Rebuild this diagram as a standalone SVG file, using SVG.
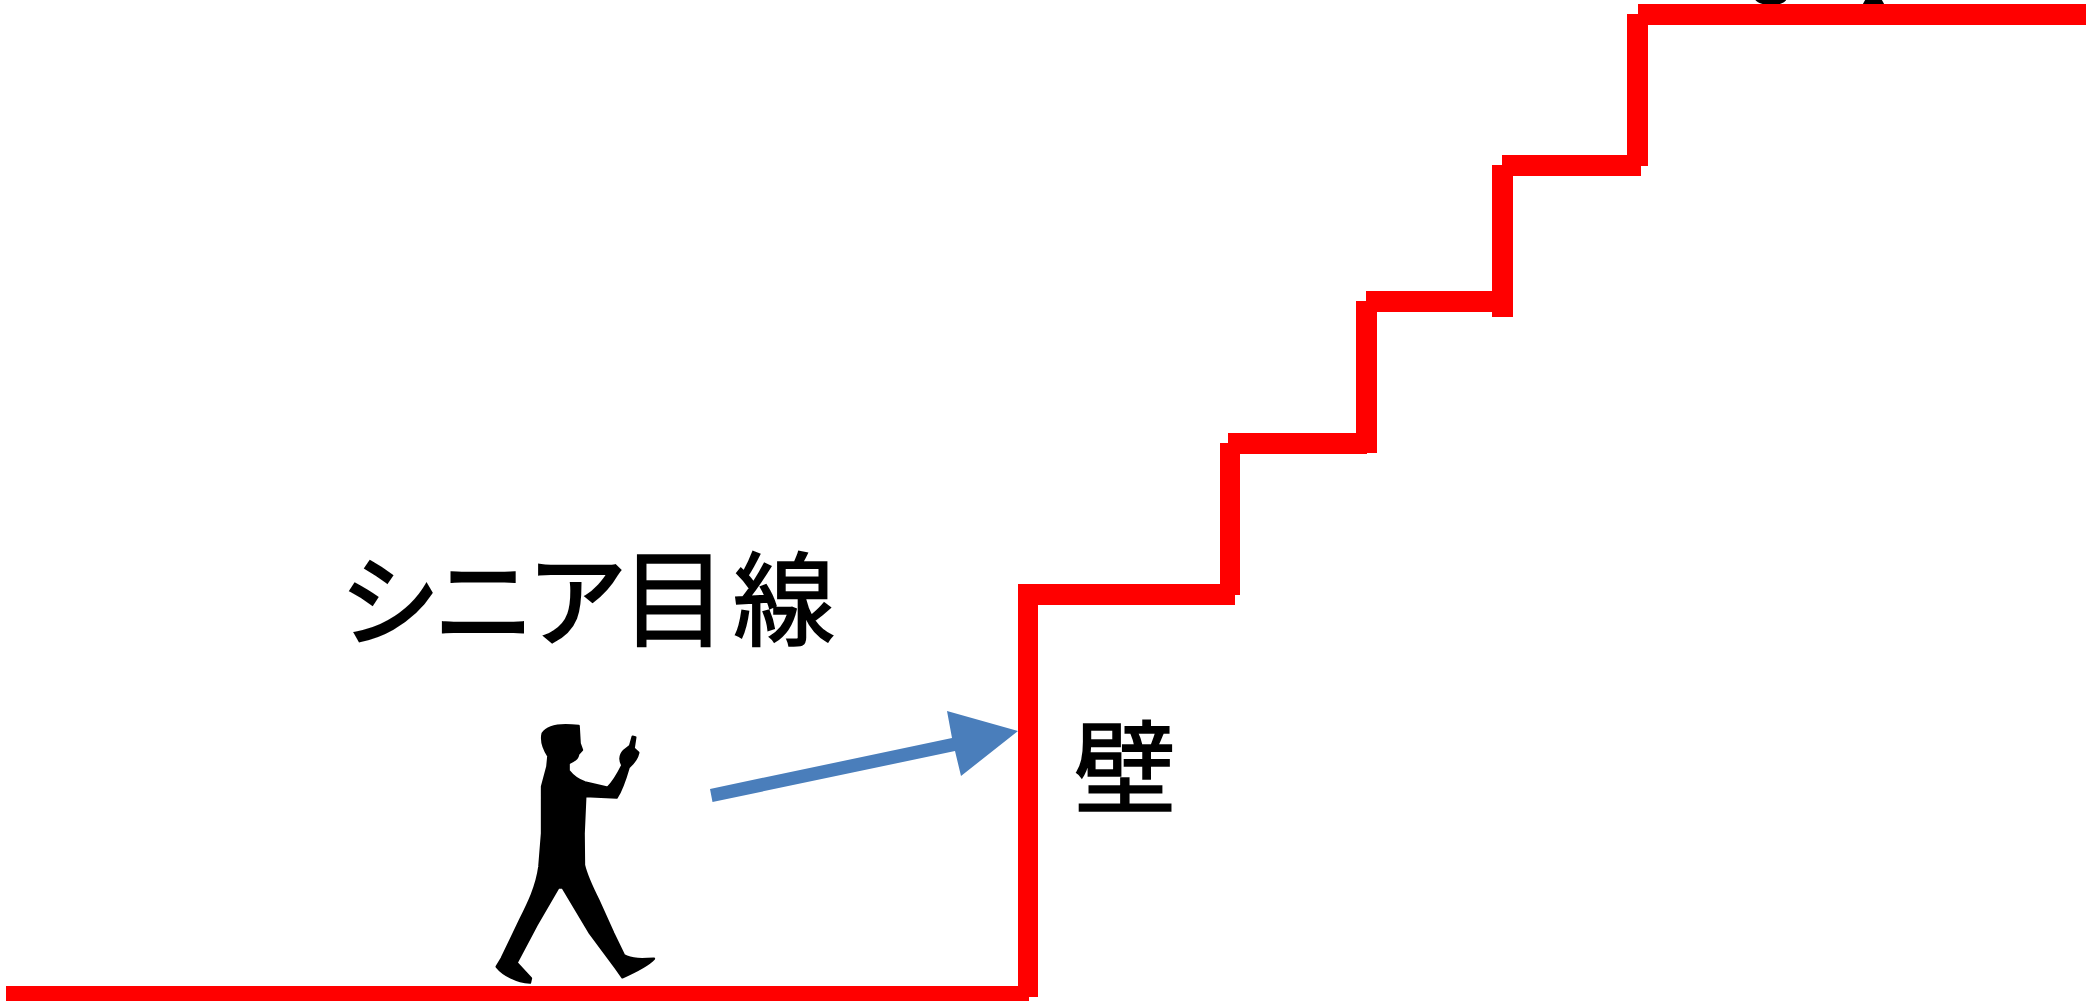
<svg xmlns="http://www.w3.org/2000/svg" width="2086" height="1001" viewBox="0 0 2086 1001">
<style>
.wall{fill:#ff0000}
.label{font-family:"Noto Sans CJK JP","Noto Sans CJK SC",sans-serif;fill:#000;stroke:#000;stroke-width:1.6}
.kana{stroke-width:2.6}
</style>
<defs>
<filter id="soft" x="-5%" y="-5%" width="110%" height="110%"><feGaussianBlur stdDeviation="0.7"/></filter>
</defs>
<rect width="2086" height="1001" fill="#fff"/>
<g id="clipped-figure" filter="url(#soft)">
<path d="M1754,-2L1787,-2C1786,2 1781,5 1771,5C1761,5 1756,2 1754,-2Z"/>
<path d="M1866,-2L1881,-2C1882,1 1884,3 1885,6L1862,6C1863,3 1865,1 1866,-2Z"/>
</g>
<g id="person" filter="url(#soft)">
<path transform="translate(440,700) scale(.33333)" stroke="#000" stroke-width="7" stroke-linejoin="round" d="M308,100C325,74 370,72 416,78L419,130L426,150L415,162C413,172 410,178 400,182L386,190L386,212C400,230 415,240 435,247L503,263C522,245 535,220 547,196C538,180 540,165 552,152L570,138L578,110L586,112L581,145L595,158C592,172 585,185 566,202C555,240 545,270 530,293L436,288L431,400L432,495C440,530 455,560 475,600L520,700L552,766C575,780 610,778 642,776C625,795 585,815 547,832L528,805L450,700L368,563L355,563L290,675L230,788L273,835L270,848C230,845 190,825 170,800L185,775L240,660C265,610 290,560 298,500L306,400L306,260L322,200L325,168C310,145 302,125 308,100Z"/>
</g>
<g id="connectors">
<g id="stairs">
<rect class="wall" x="6" y="986" width="1023" height="15"/>
<rect class="wall" x="1018" y="584" width="20" height="413"/>
<rect class="wall" x="1018" y="584" width="217" height="21"/>
<rect class="wall" x="1220" y="443" width="20" height="152"/>
<rect class="wall" x="1228" y="433" width="139" height="21"/>
<rect class="wall" x="1356" y="301" width="21" height="152"/>
<rect class="wall" x="1366" y="291" width="147" height="21"/>
<rect class="wall" x="1492" y="165" width="21" height="152"/>
<rect class="wall" x="1502" y="155" width="139" height="21"/>
<rect class="wall" x="1627" y="14" width="21" height="152"/>
<rect class="wall" x="1638" y="4" width="448" height="21"/>
</g>
<path id="sight-arrow" fill="#4a7ebb" d="M710,789L952,738L947,711L1018,731L961,776L955,751L712.500,802Z"/>
</g>
<g id="label-senior"><text class="label" y="638"><tspan class="kana" x="340" font-size="100">シ</tspan><tspan class="kana" x="434" font-size="100">ニ</tspan><tspan class="kana" x="527" font-size="100">ア</tspan><tspan x="621" font-size="106">目</tspan><tspan x="733" font-size="102">線</tspan></text></g>
<g id="label-wall"><text class="label" x="1074" y="806" font-size="102">壁</text></g>
</svg>
